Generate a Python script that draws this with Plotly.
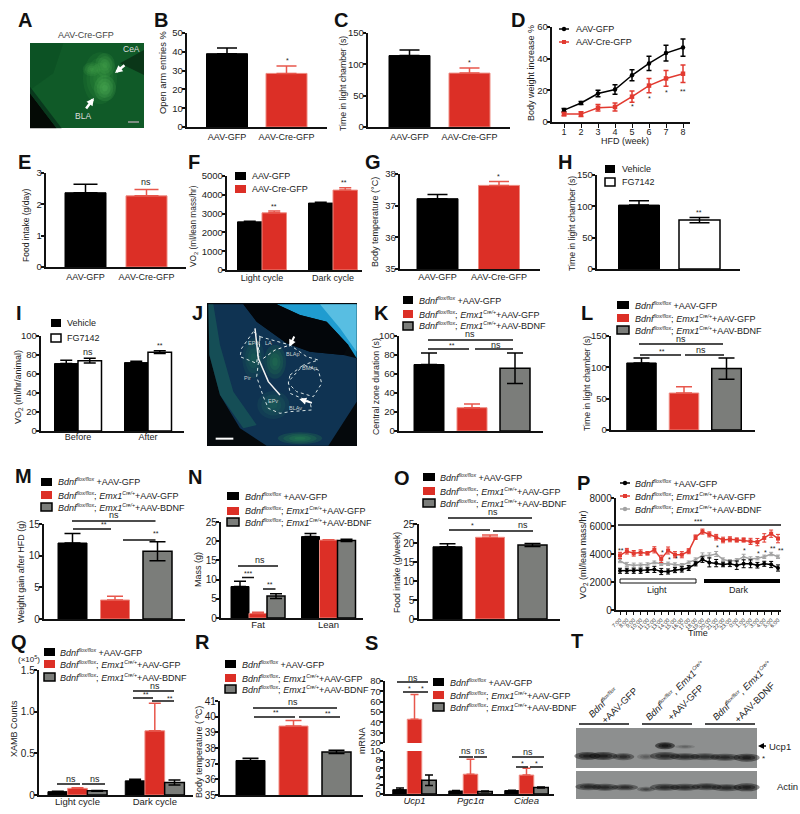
import plotly.graph_objects as go

# ---------- data ----------
GFP2 = ["AAV-GFP", "AAV-Cre-GFP"]
B_vals = [39, 28.5]; B_errs = [3, 4]
C_vals = [114, 86]; C_errs = [9, 8]
D_weeks = [1, 2, 3, 4, 5, 6, 7, 8]
D_black = [7.5, 12, 18, 20.5, 29.5, 37, 43.5, 47]
D_black_err = [1, 1, 2, 3, 3.5, 4.5, 5, 5.5]
D_red = [5, 5, 9, 9.5, 16, 23, 27.5, 30.5]
D_red_err = [1, 1.5, 2, 2.5, 3.5, 4.5, 5, 5.5]
E_vals = [2.37, 2.27]; E_errs = [0.27, 0.2]
CYCLE = ["Light cycle", "Dark cycle"]
F_black = [2560, 3560]; F_black_err = [30, 40]
F_red = [3040, 4250]; F_red_err = [100, 130]
G_vals = [37.22, 37.64]; G_errs = [0.13, 0.12]
H_cats = ["Vehicle", "FG7142"]
H_vals = [102, 78]; H_errs = [7, 4]
I_cats = ["Before", "After"]
I_black = [71, 72]; I_black_err = [3.5, 1.5]
I_white = [74, 83]; I_white_err = [2.5, 1.5]
K_vals = [70, 24.5, 66]; K_errs = [12, 4, 16]
L_vals = [107, 59, 98]; L_errs = [8, 10, 17]
M_vals = [12, 3, 10.7]; M_errs = [1.5, 0.6, 1.5]
N_cats = ["Fat", "Lean"]
N_black = [8.2, 21.2]; N_black_err = [1.4, 0.8]
N_red = [1.2, 20.3]; N_red_err = [0.3, 0.1]
N_gray = [5.7, 20.2]; N_gray_err = [0.6, 0.3]
O_vals = [19, 21.5, 19.5]; O_errs = [0.8, 0.6, 0.4]
P_times = ["7:00", "8:00", "9:00", "10:00", "11:00", "12:00", "13:00", "14:00", "15:00", "16:00", "17:00", "18:00",
           "19:00", "20:00", "21:00", "22:00", "23:00", "0:00", "1:00", "2:00", "3:00", "4:00", "5:00", "6:00"]
P_black = [2800, 2800, 2800, 2800, 2850, 2900, 2750, 2750, 2850, 2900, 3000, 3300, 3600, 3400, 3350, 3250, 3300, 3200, 3300, 3300, 3200, 3300, 3250, 3000]
P_black_err = [180, 180, 180, 180, 170, 220, 220, 180, 180, 190, 180, 150, 200, 320, 260, 160, 200, 300, 280, 280, 200, 180, 220, 220]
P_red = [3900, 4200, 4050, 4100, 4050, 4300, 3650, 4250, 3950, 3950, 4200, 5200, 5600, 5400, 5200, 5000, 5050, 5000, 5000, 4900, 4850, 5150, 5450, 5100]
P_red_err = [220, 200, 200, 200, 120, 220, 260, 250, 220, 220, 180, 160, 180, 180, 200, 200, 180, 150, 150, 220, 260, 300, 260, 300]
P_gray = [3500, 3250, 3200, 3200, 3250, 3400, 3300, 3300, 3250, 3200, 3400, 3600, 3900, 3900, 4000, 3600, 3500, 3550, 3800, 3650, 3700, 3800, 4000, 3800]
P_gray_err = [120, 150, 150, 150, 120, 100, 120, 120, 120, 120, 100, 120, 180, 180, 180, 120, 100, 120, 180, 150, 120, 120, 120, 120]
Q_black = [0.04, 0.17]; Q_black_err = [0.005, 0.02]
Q_red = [0.08, 0.77]; Q_red_err = [0.008, 0.33]
Q_gray = [0.05, 0.15]; Q_gray_err = [0.005, 0.03]
R_vals = [37.2, 39.4, 37.75]; R_errs = [0.15, 0.35, 0.1]
S_cats = ["Ucp1", "Pgc1α", "Cidea"]
S_black = [1.0, 0.7, 0.8]; S_black_err = [0.4, 0.1, 0.1]
S_red = [43, 4.6, 4.4]; S_red_err = [24, 3.5, 1.6]
S_gray = [3.2, 0.6, 1.5]; S_gray_err = [1.2, 0.1, 0.1]


def tiny(s, size=5.2):
    return f'<sup><span style="font-size:{size}px">{s}</span></sup>'


LEG_GFP = ["AAV-GFP", "AAV-Cre-GFP"]
BD1 = f"<i>Bdnf{tiny('flox/flox')}</i> +AAV-GFP"
BD2 = f"<i>Bdnf{tiny('flox/flox')}</i>; <i>Emx1{tiny('Cre/+')}</i>+AAV-GFP"
BD3 = f"<i>Bdnf{tiny('flox/flox')}</i>; <i>Emx1{tiny('Cre/+')}</i>+AAV-BDNF"
BD_LEG = [BD1, BD2, BD3]

# ---------- styles ----------
W, H = 800, 814
BLACK, RED, GRAY, WHITE = "#000000", "#dc2f26", "#7b7d7a", "#ffffff"
STYLE = {
    BLACK: dict(line="#000000", lw=1, err="#000000", both=False),
    RED: dict(line="#ee8a80", lw=1, err="#e8574c", both=False),
    GRAY: dict(line="#000000", lw=1.5, err="#000000", both=True),
    WHITE: dict(line="#000000", lw=1.5, err="#000000", both=True),
}
FONT = "Liberation Sans"
TXT = "#222222"
TICK = 9.5
LAB = 9

fig = go.Figure()
shapes, annos = [], []
axn = [0]


def X(p): return p / W
def Y(p): return 1 - p / H


def text(x, y, s, size=9, anchor="center", color=TXT, angle=0, bold=False):
    annos.append(dict(x=X(x), y=Y(y), xref="paper", yref="paper", text=f"<b>{s}</b>" if bold else s,
                      showarrow=False, xanchor=anchor, yanchor="middle", textangle=angle,
                      font=dict(family=FONT, size=size, color=color)))


def line(x0, y0, x1, y1, color="#111111", w=1.5, dash=None):
    shapes.append(dict(type="line", xref="paper", yref="paper", x0=X(x0), y0=Y(y0), x1=X(x1), y1=Y(y1),
                       line=dict(color=color, width=w, dash=dash)))


def rect(x0, y0, x1, y1, fill, lc=None, lw=0):
    shapes.append(dict(type="rect", xref="paper", yref="paper", x0=X(x0), y0=Y(y0), x1=X(x1), y1=Y(y1),
                       fillcolor=fill, line=dict(color=lc or fill, width=lw)))


def poly(pts, fill=None, op=1, lc=None, lw=0, dash=None, close=True):
    d = "M " + " L ".join(f"{X(a):.5f},{Y(b):.5f}" for a, b in pts) + (" Z" if close else "")
    shapes.append(dict(type="path", xref="paper", yref="paper", path=d, fillcolor=fill or "rgba(0,0,0,0)",
                       opacity=op, line=dict(color=lc or "rgba(0,0,0,0)", width=lw, dash=dash)))


def ell(cx, cy, rx, ry, fill, op=1.0):
    shapes.append(dict(type="circle", xref="paper", yref="paper", x0=X(cx - rx), x1=X(cx + rx), y0=Y(cy - ry), y1=Y(cy + ry),
                       fillcolor=fill, opacity=op, line=dict(width=0)))


def soft(cx, cy, rx, ry, fill, op=0.2, n=4):
    for i in range(n):
        k = 1 - i / n
        ell(cx, cy, rx * k, ry * k, fill, op)


def arrow(x0, y0, x1, y1, color="#ffffff", w=2.5, size=0.6):
    annos.append(dict(x=X(x1), y=Y(y1), xref="paper", yref="paper", ax=x0 - x1, ay=y0 - y1,
                      text="", showarrow=True, arrowhead=2, arrowsize=size, arrowwidth=w, arrowcolor=color))


def axes(x0, x1, ytop, ybot, xrange, yrange, yticks, xticks=None, xtext=None, xfont=9, yfont=TICK, xtick_len=0,
         xangle=None, show_x=True, lab_shift=-3):
    axn[0] += 1
    n = axn[0]
    xa = dict(domain=[X(x0), X(x1)], range=xrange, anchor=f"y{n}", showgrid=False, zeroline=False, showline=show_x,
              linecolor="#111111", linewidth=1.5, tickmode="array", tickvals=xticks or [], ticktext=xtext or [],
              ticks="outside" if xtick_len else "", ticklen=xtick_len, tickwidth=1, tickcolor="#111111",
              tickfont=dict(family=FONT, size=xfont, color=TXT), fixedrange=True, showticklabels=show_x,
              ticklabelstandoff=lab_shift, automargin=False)
    if xangle is not None:
        xa["tickangle"] = xangle
    ya = dict(domain=[Y(ybot), Y(ytop)], range=yrange, anchor=f"x{n}", showgrid=False, zeroline=False, showline=True,
              linecolor="#111111", linewidth=1.5, tickmode="array", tickvals=yticks, ticktext=[str(t) for t in yticks],
              ticks="outside", ticklen=3.5, tickwidth=1.5, tickcolor="#111111",
              tickfont=dict(family=FONT, size=yfont, color=TXT), fixedrange=True, ticklabelstandoff=-3, automargin=False)
    fig.update_layout(**{f"xaxis{n}": xa, f"yaxis{n}": ya})
    return n


def add_bar(n, x, val, err, color, offset, width, cap):
    st = STYLE[color]
    fig.add_trace(go.Bar(x=x, y=val, xaxis=f"x{n}", yaxis=f"y{n}", offset=offset, width=width, showlegend=False,
                         marker=dict(color=color, line=dict(color=st["line"], width=st["lw"])),
                         error_y=dict(type="data", symmetric=False, array=err,
                                      arrayminus=err if st["both"] else [0] * len(err),
                                      color=st["err"], thickness=1.5, width=cap)))


def single_panel(box, c0, step, w, cats, vals, errs, colors, yr, yt, cap=10, xfont=9, yfont=TICK, lab_shift=0):
    x0, x1, yt_px, yb_px = box
    xr = [(x0 - c0) / step, (x1 - c0) / step]
    n = axes(x0, x1, yt_px, yb_px, xr, yr, yt, list(range(len(cats))) if cats else None, cats, xfont, yfont, lab_shift=lab_shift)
    for i, (v, e, c) in enumerate(zip(vals, errs, colors)):
        add_bar(n, [i], [v], [e], c, -w / step / 2, w / step, cap)
    return n


def group_panel(box, c0, step, w, cats, series, yr, yt, cap=6, xfont=9, yfont=TICK, lab_shift=-3):
    x0, x1, yt_px, yb_px = box
    xr = [(x0 - c0) / step, (x1 - c0) / step]
    n = axes(x0, x1, yt_px, yb_px, xr, yr, yt, list(range(len(cats))), cats, xfont, yfont, lab_shift=lab_shift)
    m = len(series)
    for k, (v, e, c) in enumerate(series):
        add_bar(n, list(range(len(cats))), v, e, c, (k - m / 2) * w / step, w / step, cap)
    return n


def square_legend(xa, xb, tx, ys, labels, colors, size=LAB):
    for y, s, c in zip(ys, labels, colors):
        st = STYLE[c]
        rect(xa, y - 4, xb, y + 4, c, st["line"] if c != RED else RED, 1.5 if c in (GRAY, WHITE) else 0)
        text(tx, y, s, size, "left")


def mark_legend(xa, xb, tx, ys, labels, colors, syms, size=LAB):
    for y, s, c, sy in zip(ys, labels, colors, syms):
        line(xa, y, xb, y, c, 1.5)
        mx = (xa + xb) / 2
        if sy == "square":
            rect(mx - 2, y - 2, mx + 2, y + 2, c)
        else:
            ell(mx, y, 2.2, 2.2, c)
        text(tx, y, s, size, "left")


def line_trace(n, x, y, err, color, symbol, size=4.5, lw=1.5, cap=2.5, et=1.5):
    fig.add_trace(go.Scatter(x=x, y=y, xaxis=f"x{n}", yaxis=f"y{n}", mode="lines+markers", showlegend=False,
                             line=dict(color=color, width=lw), marker=dict(color=color, symbol=symbol, size=size),
                             error_y=dict(type="data", array=err, color=color, thickness=et, width=cap)))


# ---------- panels ----------
TWO = [BLACK, RED]
THREE = [BLACK, RED, GRAY]

# B, C
single_panel((187, 327, 33, 127), 227, 59.5, 41, GFP2, B_vals, B_errs, TWO, [0, 50], [0, 10, 20, 30, 40, 50])
single_panel((368, 510, 33, 127), 409.5, 60, 41, GFP2, C_vals, C_errs, TWO, [0, 150], [0, 50, 100, 150])

# D
d0 = 564; ds = 17
n = axes(552, 690, 27, 122, [1 - (d0 - 552) / ds, 8 + (690 - 683) / ds], [0, 60], [0, 20, 40, 60], D_weeks, [str(w) for w in D_weeks],
         xtick_len=4, lab_shift=-4)
line_trace(n, D_weeks, D_black, D_black_err, "#000000", "circle")
line_trace(n, D_weeks, D_red, D_red_err, "#e23a30", "square")
text(625, 141, "HFD (week)")

# E, F, G, H
single_panel((46, 186, 173, 267), 85.5, 61, 41, GFP2, E_vals, E_errs, TWO, [0, 3], [0, 1, 2, 3], cap=12)
group_panel((227, 362, 176, 270), 262, 71, 24.5, CYCLE,
            [(F_black, F_black_err, BLACK), (F_red, F_red_err, RED)], [0, 5000], [0, 1000, 2000, 3000, 4000, 5000], lab_shift=-2)
single_panel((400, 540, 174, 269), 437.5, 61.5, 41, GFP2, G_vals, G_errs, TWO, [35, 38], [35, 36, 37, 38], cap=10, lab_shift=-2)
single_panel((597, 740, 175, 269), 639, 60.5, 41, [], H_vals, H_errs, [BLACK, WHITE], [0, 150], [0, 50, 100, 150], cap=10)

# I
group_panel((41, 184, 336, 431), 78, 70, 23.5, I_cats,
            [(I_black, I_black_err, BLACK), (I_white, I_white_err, WHITE)], [0, 100], [0, 20, 40, 60, 80, 100], lab_shift=-4)

# K, L
single_panel((399, 543, 336, 431), 429, 43, 30, [], K_vals, K_errs, THREE, [0, 100], [0, 20, 40, 60, 80, 100], cap=8)
single_panel((611, 755, 336, 430), 641.5, 42.5, 29.5, [], L_vals, L_errs, THREE, [0, 150], [0, 50, 100, 150], cap=8)

# M, N, O
single_panel((44, 185, 524, 619), 72.5, 42.5, 29, [], M_vals, M_errs, THREE, [0, 15], [0, 5, 10, 15], cap=8, yfont=10)
group_panel((221, 363, 522, 618), 258, 70.5, 18, N_cats,
            [(N_black, N_black_err, BLACK), (N_red, N_red_err, RED), (N_gray, N_gray_err, GRAY)], [0, 25], [0, 5, 10, 15, 20, 25],
            cap=6, xfont=9.5, yfont=10, lab_shift=-3)
single_panel((418.5, 560, 524, 619), 447.5, 42.5, 29, [], O_vals, O_errs, THREE, [0, 25], [0, 5, 10, 15, 20, 25], cap=8, yfont=10)

# P
p_idx = list(range(len(P_times)))
p_step = (778 - 620) / (len(P_times) - 1)
n = axes(616, 781, 498, 610, [(616 - 620) / p_step, (781 - 620) / p_step], [0, 8000], [0, 2000, 4000, 6000, 8000], p_idx, P_times,
         xfont=5.5, yfont=10, xtick_len=3, xangle=-45, lab_shift=0)
line_trace(n, p_idx, P_gray, P_gray_err, "#a3a3a3", "triangle-up", 4, 1.5, 2, 1)
line_trace(n, p_idx, P_black, P_black_err, "#000000", "circle", 4, 1.5, 2, 1)
line_trace(n, p_idx, P_red, P_red_err, "#e23a30", "square", 4, 1.5, 2, 1)
text(698, 633, "Time")

# Q, R
group_panel((39, 193, 670, 795), 77.5, 77.3, 19.7, CYCLE,
            [(Q_black, Q_black_err, BLACK), (Q_red, Q_red_err, RED), (Q_gray, Q_gray_err, GRAY)], [0, 1.5], [0, 0.5, 1.0, 1.5],
            cap=6, xfont=9.5, yfont=10, lab_shift=-3)
fig.layout[f"yaxis{axn[0]}"].ticktext = ["0", "0.5", "1.0", "1.5"]
single_panel((220, 363, 701, 795), 250.5, 43, 29, [], R_vals, R_errs, THREE, [35, 41], [35, 36, 37, 38, 39, 40, 41], cap=8, yfont=10)

# S (broken axis)
s_w = 14.5
s_series = [(S_black, S_black_err, BLACK), (S_red, S_red_err, RED), (S_gray, S_gray_err, GRAY)]
s_c0, s_step = 414.5, 56
s_xr = [(385 - s_c0) / s_step, (554 - s_c0) / s_step]
n = axes(385, 554, 751, 794, s_xr, [0, 10], [0, 2, 4, 6, 8, 10], [0, 1, 2], [f"<i>{c}</i>" for c in S_cats], yfont=9.5, xfont=9.5, lab_shift=-3)
for k, (v, e, c) in enumerate(s_series):
    add_bar(n, [0, 1, 2], v, e, c, (k - 1.5) * s_w / s_step, s_w / s_step, 4)
n = axes(385, 554, 681, 743, s_xr, [20, 80], [20, 30, 40, 50, 60, 70, 80], yfont=9.5, show_x=False)
for k, (v, e, c) in enumerate(s_series):
    add_bar(n, [0, 1, 2], v, e, c, (k - 1.5) * s_w / s_step, s_w / s_step, 4)

# ---------- y titles ----------
YTITLES = [(163, 73, "Open arm entries %", 9.3), (343, 84, "Time in light chamber (s)", 8.7), (531, 73, "Body weight increase %", 9),
           (26, 226, "Food intake (g/day)", 8.5), (193, 226, "VO<sub>2</sub> (ml/lean mass/hr)", 8.3), (375, 222, "Body temperature (°C)", 9),
           (572, 224, "Time in light chamber (s)", 8.7), (18, 387, "VO<sub>2</sub> (ml/hr/animal)", 9),
           (376, 387, "Central zone duration (s)", 8.8), (587, 384, "Time in light chamber (s)", 8.7),
           (21, 572, "Weight gain after HFD (g)", 9), (198, 570, "Mass (g)", 9), (397, 573, "Food intake (g/week)", 8.7),
           (583, 555, "VO<sub>2</sub> (ml/lean mass/hr)", 9), (14, 729, "XAMB Counts", 9), (199, 752, "Body temperature ( ºC)", 9),
           (362, 741, "mRNA", 9)]
for a, b, s, fs in YTITLES:
    text(a, b, s, fs, angle=-90)

# ---------- panel letters ----------
LETTERS = dict(A=(25, 20), B=(161, 20), C=(341, 20), D=(518, 20), E=(24, 162), F=(194, 162), G=(373, 162), H=(565, 162),
               I=(19, 313), J=(197, 313), K=(381, 313), L=(587, 313), M=(23, 476), N=(195, 477), O=(402, 478), P=(583, 483),
               Q=(19, 642), R=(202, 642), S=(371, 643), T=(577, 641))
for k, (a, b) in LETTERS.items():
    text(a, b, k, 20, color="#111111", bold=True)

# ---------- legends ----------
mark_legend(559, 569, 574, [29, 42], LEG_GFP, ["#000000", "#e23a30"], ["circle", "square"])
square_legend(235, 246, 250, [176, 189], LEG_GFP, TWO)
square_legend(605, 615, 620, [169, 182], H_cats, [BLACK, WHITE])
square_legend(51, 61, 65, [323, 338], H_cats, [BLACK, WHITE])
square_legend(403, 413, 417, [300, 314, 326], BD_LEG, THREE)
square_legend(617, 629, 633, [305, 318, 330], BD_LEG, THREE)
square_legend(41, 52, 56, [482, 495, 507], BD_LEG, THREE)
square_legend(227, 239, 243, [496, 511, 522], BD_LEG, THREE)
square_legend(423, 435, 438, [477, 491, 503], BD_LEG, THREE)
mark_legend(620, 630, 633, [483, 496, 509], BD_LEG, ["#000000", "#e23a30", "#a3a3a3"], ["circle", "square", "circle"])
square_legend(44, 55, 58, [652, 664, 677], BD_LEG, THREE)
square_legend(225, 236, 240, [664, 678, 689], BD_LEG, THREE)
square_legend(433, 444, 448, [682, 695, 707], BD_LEG, THREE)

# ---------- significance marks ----------
STARS = [(287, 61, "*"), (469, 62, "*"), (632, 107, "*"), (649, 99, "*"), (666, 92, "*"), (683, 91, "**"),
         (146, 182, "ns"), (274, 207, "**"), (344, 183, "**"), (498, 177, "*"), (699, 212, "**"), (88, 352, "ns"), (160, 345, "**"),
         (470, 334, "ns"), (452, 345, "**"), (496, 345, "ns"), (681, 339, "ns"), (662, 351, "**"), (701, 350, "ns"),
         (114, 515, "ns"), (104, 524, "**"), (155.5, 533.5, "**"), (260, 560, "ns"), (248, 573, "***"), (270, 584, "**"),
         (493, 512, "ns"), (472, 525, "*"), (523, 525, "ns"),
         (698, 521, "***"), (621, 550, "**"), (662, 552, "*"), (669, 559, "*"), (676, 558, "*"), (717, 547, "*"), (744, 550, "*"),
         (758, 553, "*"), (765, 552, "*"), (773, 548, "**"), (781, 550, "**"),
         (71, 779, "ns"), (95, 779, "ns"), (155, 686, "ns"), (146, 694, "**"), (170, 698, "**"),
         (293, 702, "ns"), (276, 712, "**"), (328, 713, "**"),
         (413, 678, "ns"), (410, 688, "*"), (422, 688, "*"), (466, 751, "ns"), (480, 751, "ns"), (528, 752, "ns"), (522, 763, "*"), (536, 763, "*")]
for a, b, s in STARS:
    text(a, b, s, 9 if s == "ns" else 7)
BRACKETS = [(428, 513, 340), (428, 469, 349), (475, 513, 349), (639, 723, 344), (640, 681, 355), (685, 724, 355),
            (72, 155.5, 521), (73, 111, 529), (123, 155.5, 540), (238, 278, 566), (242, 254, 577.5), (263, 275.5, 589),
            (448, 532, 518), (449, 490, 530), (493, 533, 531), (618, 781, 525),
            (57, 80, 784), (82, 105, 784), (133, 174, 691), (133, 153, 698), (152, 174, 701),
            (253, 337, 708), (254, 295, 717), (299, 340, 717),
            (397, 428, 682), (403, 428, 692), (459, 473, 757), (474, 487, 757), (512, 544, 757), (516, 528, 767), (530, 543, 767)]
for a, b, y in BRACKETS:
    line(a, y, b, y)
rect(620, 579, 696, 583, "#ffffff", "#111111", 1)
rect(704, 579, 780, 583, "#000000")
text(657, 589.5, "Light", 9)
text(739, 589.5, "Dark", 9)
text(29, 659, "(×10<sup>5</sup>)", 8)

# ---------- photo A ----------
def A(zx, zy): return (20 + zx / 3, 30 + zy / 3)
rect(30, 43, 144, 128, "#105a28")
poly([A(30, 40), A(130, 40), A(100, 130), A(30, 180)], "#0c4f22", 0.7)
poly([A(30, 190), A(110, 295), A(30, 295)], "#040a05")
poly([A(30, 170), A(125, 295), A(110, 295), A(30, 190)], "#08301a", 0.8)
poly([A(300, 100), A(372, 60), A(372, 135)], "#0a3216", 0.9)
soft(*A(240, 145), 17, 26, "#3aa548", 0.13, 5)
soft(*A(255, 175), 11, 13, "#6fd06a", 0.13)
soft(*A(255, 105), 10, 12, "#5cc05c", 0.13)
soft(*A(215, 118), 9, 7, "#5cc05c", 0.12)
arrow(126, 64, 115, 73)
arrow(85, 110, 94, 98)
text(131, 49, "CeA", 8.5, color="#dddddd")
text(83, 116, "BLA", 8.5, color="#dddddd")
line(128, 122, 139, 122, "#a0a0a0", 1.5)
text(86, 35, "AAV-Cre-GFP", 9, color="#444444")

# ---------- photo J ----------
def J(zx, zy): return (200 + zx / 3, 295 + zy / 3)
rect(207, 303, 357, 446, "#05090c")
poly([J(25, 28), J(130, 28), J(170, 80), J(260, 145), J(330, 170), J(430, 180), J(470, 190), J(470, 320), J(385, 452), J(200, 452), J(120, 400), J(60, 300), J(28, 180)], "#0f3352")
poly([J(230, 28), J(470, 28), J(470, 190), J(445, 150), J(380, 80), J(300, 60)], "#1f9cd0")
poly([J(360, 28), J(470, 28), J(470, 170), J(420, 100)], "#7fd6ee", 0.6)
poly([J(130, 28), J(230, 28), J(300, 60), J(380, 80), J(445, 150), J(430, 180), J(330, 170), J(260, 145), J(170, 80)], "#03060a")
poly([J(25, 28), J(40, 28), J(60, 150), J(100, 290), J(170, 390), J(130, 400), J(60, 300), J(28, 180)], "#1d6f5a", 0.45)
soft(*J(225, 200), 11, 17, "#2f9a50", 0.15)
soft(*J(160, 190), 11, 20, "#2a8a5a", 0.12)
soft(*J(220, 330), 16, 14, "#2f8f60", 0.11)
soft(*J(300, 430), 22, 6, "#2f9a50", 0.2)
WH = "#d8e4e4"
poly([J(160, 110), J(125, 160), J(120, 185), J(170, 205), J(180, 125)], None, 1, WH, 1, "dot")
poly([J(180, 125), J(270, 150), J(320, 185), J(355, 195), J(310, 210), J(265, 260), J(270, 295), J(330, 320), J(335, 345), J(270, 350), J(240, 355), J(205, 340), J(190, 305), J(170, 245), J(175, 205), J(180, 125)], None, 1, WH, 1, "dot")
poly([J(270, 240), J(310, 210), J(355, 225), J(365, 265), J(340, 305), J(290, 290), J(265, 265)], None, 1, WH, 1, "dot")
poly([J(165, 100), J(175, 190), J(205, 260), J(240, 300)], None, 1, "#f2f2f2", 1.5, None, False)
poly([J(190, 190), J(225, 165), J(270, 150)], None, 1, "#f2f2f2", 1, "dot", False)
arrow(*J(285, 120), *J(268, 155), w=2, size=0.7)
arrow(*J(340, 325), *J(298, 312), w=2, size=0.7)
for (zx, zy, lab) in [(158, 143, "EPd"), (205, 143, "LA"), (278, 178, "BLAp"), (328, 218, "BMAp"), (143, 250, "Pir"), (218, 317, "EPv"), (285, 340, "BLAv")]:
    a, b = J(zx, zy)
    text(a, b, lab, 5.5, color="#c8d0d0")
line(*J(47, 431), *J(100, 431), "#ffffff", 2)

# ---------- blot T ----------
def T(zx, zy): return (570 + zx / 3, 650 + zy / 3)
rect(576, 728, 757, 768, "#8d8f8f")
rect(576, 771, 757, 799, "#8d8f8f")
for zx, zy, rx, ry, op in [(52, 318, 13, 4, 0.45), (100, 318, 14, 4, 0.45), (160, 320, 11, 3.5, 0.38), (228, 320, 9, 3, 0.15),
                           (285, 287, 10, 3.5, 0.55), (345, 290, 10, 2, 0.12), (285, 318, 15, 4, 0.4), (345, 320, 15, 3.5, 0.4),
                           (405, 320, 15, 3.5, 0.35), (465, 322, 15, 3.5, 0.4), (530, 323, 13, 4, 0.45),
                           (55, 410, 13, 3.5, 0.4), (105, 412, 13, 3.5, 0.4), (165, 412, 13, 3, 0.38), (228, 418, 9, 2.5, 0.25),
                           (285, 412, 15, 3.5, 0.4), (345, 412, 15, 3.5, 0.4), (410, 410, 15, 3.5, 0.4), (470, 413, 15, 3.5, 0.4), (530, 412, 13, 4, 0.45)]:
    a, b = T(zx, zy)
    soft(a, b, rx, ry, "#0c0c0c", op, 3)
for a, b in [(579, 629), (642, 692), (705, 755)]:
    line(a, 724, b, 724)
FL = f"<i>Bdnf{tiny('flox/flox')}</i>"
FE = f"<i>Bdnf{tiny('flox/flox')}, Emx1{tiny('Cre/+')}</i>"
text(603, 702, FL, 9.5, angle=-45)
text(619, 705, "+AAV-GFP", 9.5, angle=-45)
text(675, 690, FE, 9.5, angle=-45)
text(685, 702, "+AAV-GFP", 9.5, angle=-45)
text(742, 690, FE, 9.5, angle=-45)
text(754, 702, "+AAV-BDNF", 9.5, angle=-45)
text(767, 746, "Ucp1", 9.5, "left")
poly([(758, 746), (764, 743), (764, 749)], "#000000")
line(762, 746, 766, 746, "#000000", 1.5)
text(763, 758, "*", 8)
text(775, 786, "Actin", 9.5, "left")

fig.update_layout(template="none", width=W, height=H, margin=dict(l=0, r=0, t=0, b=0, pad=0, autoexpand=False), paper_bgcolor="white",
                  plot_bgcolor="rgba(0,0,0,0)", showlegend=False, barmode="overlay", shapes=shapes, annotations=annos,
                  font=dict(family=FONT, color=TXT))
fig.write_html("out.html", config=dict(displayModeBar=False),
               post_script="document.body.style.margin='0';document.documentElement.style.overflow='hidden';")
